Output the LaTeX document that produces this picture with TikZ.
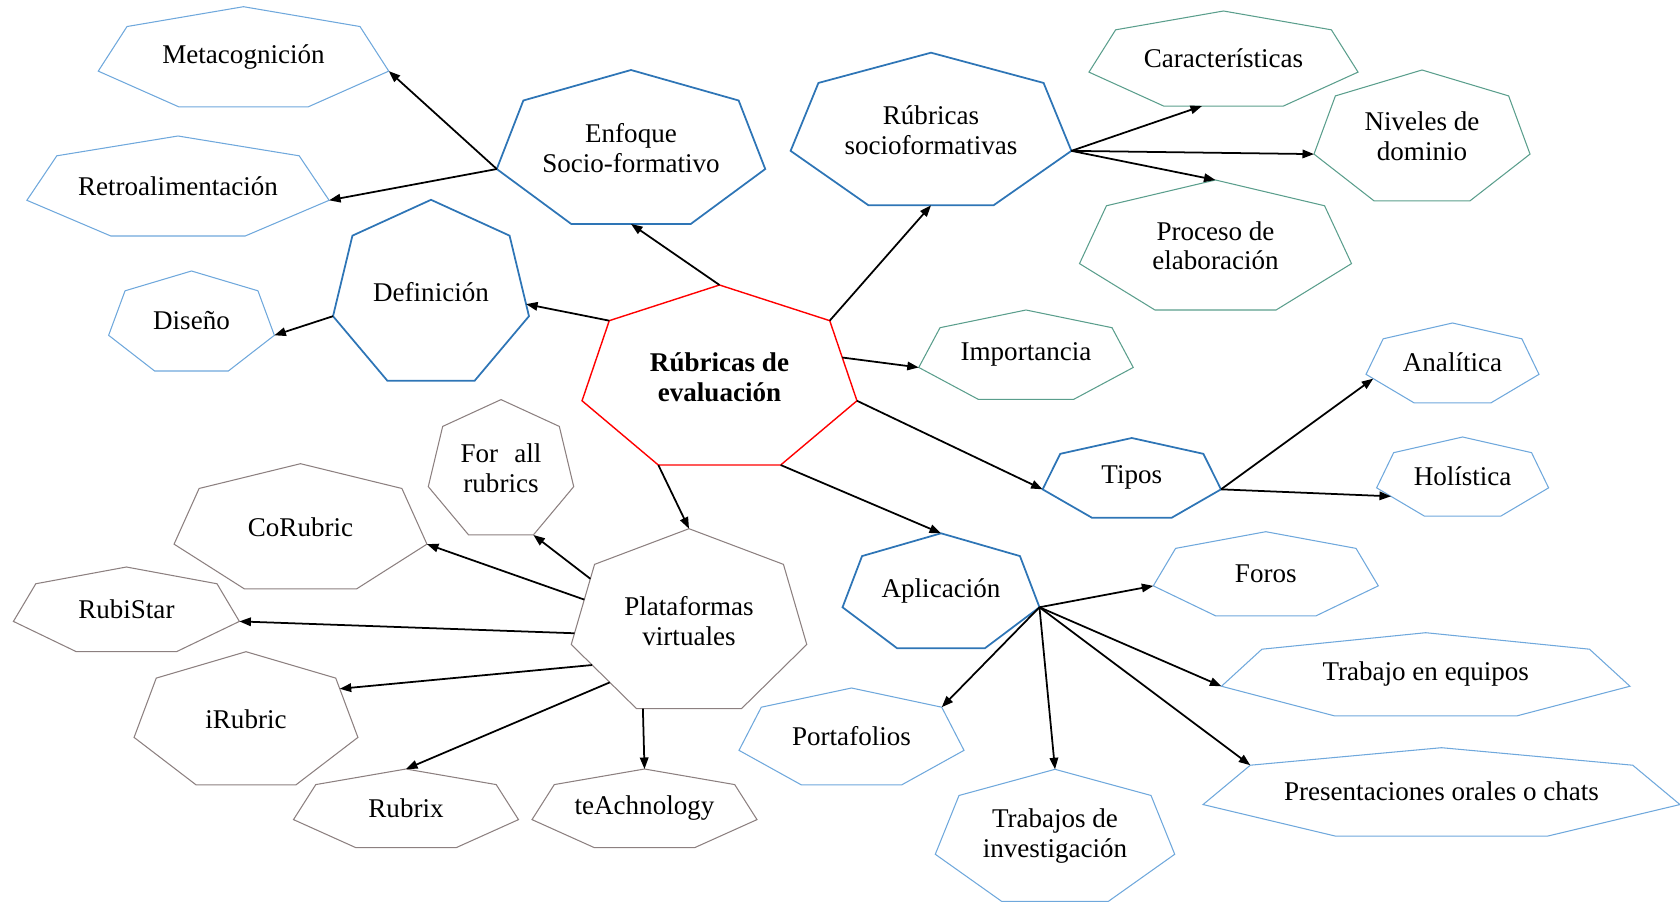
\documentclass[tikz,border=0pt]{standalone}
\usepackage{fontspec}
\setmainfont{Liberation Serif}
\usetikzlibrary{calc, arrows.meta}

\definecolor{rojo}{HTML}{FF0000}
\definecolor{azul}{HTML}{2E75B6}
\definecolor{celeste}{HTML}{6FA8DC}
\definecolor{verde}{HTML}{5A9E8C}
\definecolor{gris}{HTML}{8C8080}

% name, centre, rx, ry, style, text
\newcommand{\heptnode}[6]{%
	\path[shift={(#2)}, xscale=#3, yscale=#4]
		\foreach \k in {1,...,7} {(\k*360/7-90-360/7:1) coordinate (#1-\k)};
	\draw[#5] (#1-1) \foreach \k in {2,...,7} {-- (#1-\k)} -- cycle;
	\node[txt] (#1) at (#2) {#6};
}

\begin{document}
\begin{tikzpicture}[x=0.02cm, y=-0.02cm,
	txt/.style={inner sep=0pt, align=center, yshift=1.5pt, font=\fontsize{15.4}{17}\selectfont},
	hred/.style={rojo, line width=0.8pt},
	hdark/.style={azul, line width=1pt},
	hlight/.style={celeste, line width=0.6pt},
	hteal/.style={verde, line width=0.6pt},
	hgray/.style={gris, line width=0.6pt},
	arr/.style={line width=1pt, -{Triangle[length=0.23cm, width=0.17cm]}}]

	\useasboundingbox (0,0) rectangle (1680,902);

	\heptnode{rub}{719.5,379.7}{141}{94.7}{hred}{\bfseries R\'ubricas de\\\bfseries evaluaci\'on}

	\heptnode{enf}{631,151}{137.7}{81}{hdark}{Enfoque\\Socio-formativo}
	\heptnode{meta}{243.5,59.4}{149}{52.7}{hlight}{Metacognici\'on}
	\heptnode{retro}{178,188.6}{155}{52.6}{hlight}{Retroalimentaci\'on}
	\heptnode{def}{431,295}{100.5}{95.2}{hdark}{Definici\'on}
	\heptnode{dis}{191.5,323.6}{85}{52.6}{hlight}{Dise\~no}

	\heptnode{soc}{931,133}{144}{80.3}{hdark}{R\'ubricas\\socioformativas}
	\heptnode{car}{1223.5,61}{138}{50}{hteal}{Caracter\'isticas}
	\heptnode{niv}{1422,138.8}{110.8}{68.8}{hteal}{Niveles de\\dominio}
	\heptnode{pro}{1215.5,248.4}{139.5}{68.4}{hteal}{Proceso de\\elaboraci\'on}
	\heptnode{imp}{1026,357}{110}{47}{hteal}{Importancia}

	\heptnode{tip}{1131.8,480}{91.5}{42}{hdark}{Tipos}
	\heptnode{ana}{1452.5,365}{88.7}{42}{hlight}{Anal\'itica}
	\heptnode{hol}{1462.6,478.6}{88.2}{41.6}{hlight}{Hol\'istica}

	\heptnode{apl}{941,593.8}{101}{60.5}{hdark}{Aplicaci\'on}
	\heptnode{foro}{1265.8,576}{115.4}{44.3}{hlight}{Foros}
	\heptnode{equ}{1425.7,676.5}{209.5}{43.8}{hlight}{Trabajo en equipos}
	\heptnode{por}{851.5,739}{115.4}{51}{hlight}{Portafolios}
	\heptnode{inv}{1055,838.8}{122.8}{69.5}{hlight}{Trabajos de\\investigaci\'on}
	\heptnode{pre}{1441.5,794.2}{244.6}{46.5}{hlight}{Presentaciones orales o chats}

	\heptnode{pla}{689,623.4}{120.8}{94.7}{hgray}{Plataformas\\virtuales}
	\heptnode{fall}{501,470.8}{74.6}{71.2}{hgray}{\makebox[1.62cm][s]{For all}\\rubrics}
	\heptnode{cor}{300.5,529.5}{129.7}{65.8}{hgray}{CoRubric}
	\heptnode{rst}{126.4,611.5}{115.9}{44.5}{hgray}{RubiStar}
	\heptnode{iru}{246,721.8}{114.8}{70.1}{hgray}{iRubric}
	\heptnode{rbx}{406,810.4}{115.4}{41.4}{hgray}{Rubrix}
	\heptnode{tea}{644.5,810.4}{115.4}{41.4}{hgray}{teAchnology}

	% central node
	\draw[arr] (rub-1) -- ($(enf-4)!0.5!(enf-5)$);
	\draw[arr] (rub-7) -- ($(def-2)!0.85!(def-3)$);
	\draw[arr] (rub-2) -- ($(soc-4)!0.5!(soc-5)$);
	\draw[arr] ($(rub-2)!0.46!(rub-3)$) -- (imp-6);
	\draw[arr] (rub-3) -- (tip-6);
	\draw[arr] (rub-4) -- (apl-1);
	\draw[arr] (rub-5) -- (pla-1);

	\draw[arr] (enf-6) -- (meta-3);
	\draw[arr] (enf-6) -- (retro-3);
	\draw[arr] (def-6) -- (dis-3);

	\draw[arr] (soc-3) -- ($(car-4)!0.68!(car-5)$);
	\draw[arr] (soc-3) -- (niv-6);
	\draw[arr] (soc-3) -- (pro-1);

	\draw[arr] (tip-3) -- ($(ana-6)!0.15!(ana-5)$);
	\draw[arr] (tip-3) -- ($(hol-6)!0.3!(hol-5)$);

	\draw[arr] (apl-3) -- (foro-6);
	\draw[arr] (apl-3) -- (por-2);
	\draw[arr] (apl-3) -- (inv-1);
	\draw[arr] (apl-3) -- (equ-6);
	\draw[arr] (apl-3) -- (pre-7);

	\draw[arr] ($(pla-7)!0.18!(pla-6)$) -- (fall-4);
	\draw[arr] ($(pla-7)!0.44!(pla-6)$) -- (cor-3);
	\draw[arr] ($(pla-7)!0.86!(pla-6)$) -- (rst-3);
	\draw[arr] ($(pla-6)!0.32!(pla-5)$) -- ($(iru-2)!0.18!(iru-3)$);
	\draw[arr] ($(pla-6)!0.59!(pla-5)$) -- (rbx-1);
	\draw[arr] ($(pla-5)!0.06!(pla-4)$) -- (tea-1);
\end{tikzpicture}
\end{document}
